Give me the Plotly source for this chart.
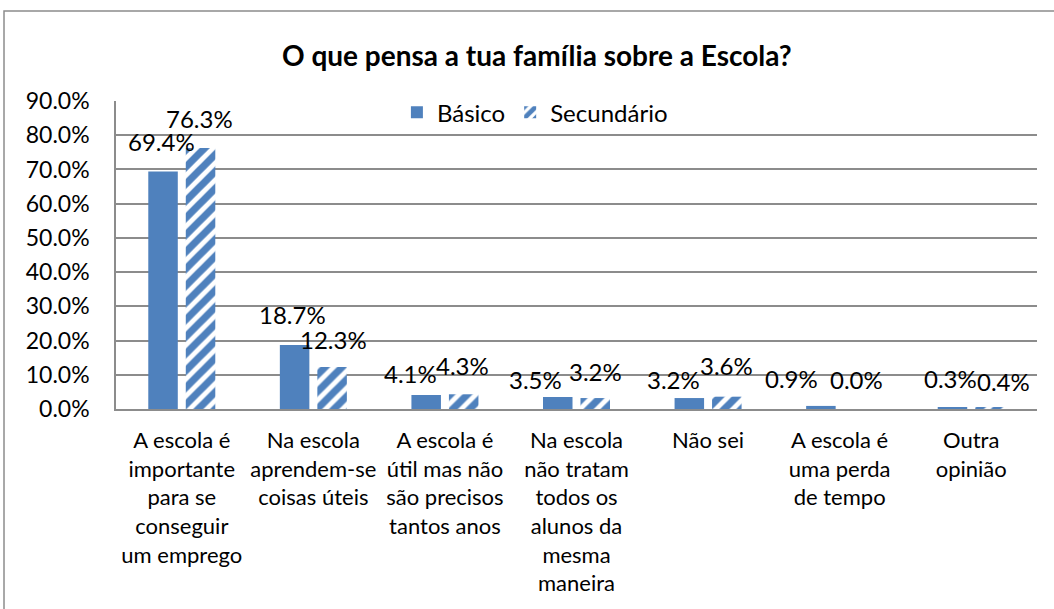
import plotly.graph_objects as go

categories = [
    "A escola é<br>importante<br>para se<br>conseguir<br>um emprego",
    "Na escola<br>aprendem-se<br>coisas úteis",
    "A escola é<br>útil mas não<br>são precisos<br>tantos anos",
    "Na escola<br>não tratam<br>todos os<br>alunos da<br>mesma<br>maneira",
    "Não sei",
    "A escola é<br>uma perda<br>de tempo",
    "Outra<br>opinião",
]
basico = [0.694, 0.187, 0.041, 0.035, 0.032, 0.009, 0.003]
secundario = [0.763, 0.123, 0.043, 0.032, 0.036, 0.000, 0.004]
yticks = [0.0, 0.1, 0.2, 0.3, 0.4, 0.5, 0.6, 0.7, 0.8, 0.9]

# label offsets (pixels) mimicking Excel's label placement
basico_dx = [-1, -2, -16, -22, -16, -29, -2]
basico_dy = [30, 31, 21, 18, 19, 27, 29]
sec_dx = [-1, 1, -1, 0, 0, -2, 13]
sec_dy = [29, 27, 29, 27, 31, 30, 26]

BLUE = "#4F81BD"
GRID = "#8C8C8C"
FONT = "Lato"

fig = go.Figure()
fig.add_trace(go.Bar(
    name="Básico", x=categories, y=basico,
    marker=dict(color=BLUE, line=dict(width=0)),
))
fig.add_trace(go.Bar(
    name="Secundário", x=categories, y=secundario,
    marker=dict(color="white", line=dict(width=0),
                pattern=dict(shape="/", fgcolor=BLUE, bgcolor="white",
                             size=12, solidity=0.6, fgopacity=1,
                             fillmode="overlay")),
))

annotations = []
for i, c in enumerate(categories):
    annotations.append(dict(
        x=c, y=basico[i], xref="x", yref="y", text=f"{basico[i]*100:.1f}%",
        showarrow=False, xshift=basico_dx[i] - 18.8, yshift=basico_dy[i],
        yanchor="middle", xanchor="center",
        font=dict(family=FONT, size=24, color="black"),
    ))
    annotations.append(dict(
        x=c, y=secundario[i], xref="x", yref="y", text=f"{secundario[i]*100:.1f}%",
        showarrow=False, xshift=sec_dx[i] + 18.8, yshift=sec_dy[i],
        yanchor="middle", xanchor="center",
        font=dict(family=FONT, size=24, color="black"),
    ))
annotations.append(dict(
    text="<b>O que pensa a tua família sobre a Escola?</b>",
    xref="paper", yref="paper", x=0.457, y=1.149, showarrow=False,
    xanchor="center", yanchor="middle",
    font=dict(family=FONT, size=28, color="black"),
))

fig.update_layout(
    width=1054, height=609,
    margin=dict(l=116, r=17, t=101, b=200, autoexpand=False),
    paper_bgcolor="white", plot_bgcolor="white",
    barmode="group", bargap=0.43, bargroupgap=0.213,
    font=dict(family=FONT, size=22, color="black"),
    showlegend=True,
    legend=dict(orientation="h", x=0.305, y=1.035, xanchor="left", yanchor="top",
                bgcolor="rgba(0,0,0,0)", font=dict(family=FONT, size=24),
                itemwidth=30, tracegroupgap=0),
    annotations=annotations,
    shapes=[dict(type="rect", xref="paper", yref="paper",
                 x0=-0.1216, x1=1.03, y0=-0.7, y1=1.292,
                 line=dict(color="#8C8C8C", width=1.5), layer="below")],
)
fig.update_yaxes(
    range=[0, 0.9], tickvals=yticks, tickformat=".1%",
    showgrid=True, gridcolor=GRID, gridwidth=1.5,
    showline=True, linecolor=GRID, linewidth=1.5,
    ticks="", ticklabelstandoff=20, zeroline=False, automargin=False,
    tickfont=dict(family=FONT, size=23),
)
fig.update_xaxes(
    showline=True, linecolor=GRID, linewidth=1.5,
    ticks="", ticklabelstandoff=11, tickangle=0, automargin=False,
    tickfont=dict(family=FONT, size=22),
)

fig.write_html("out.html", config={"displayModeBar": False},
               post_script="document.body.style.margin='0';document.body.style.overflow='hidden';")
